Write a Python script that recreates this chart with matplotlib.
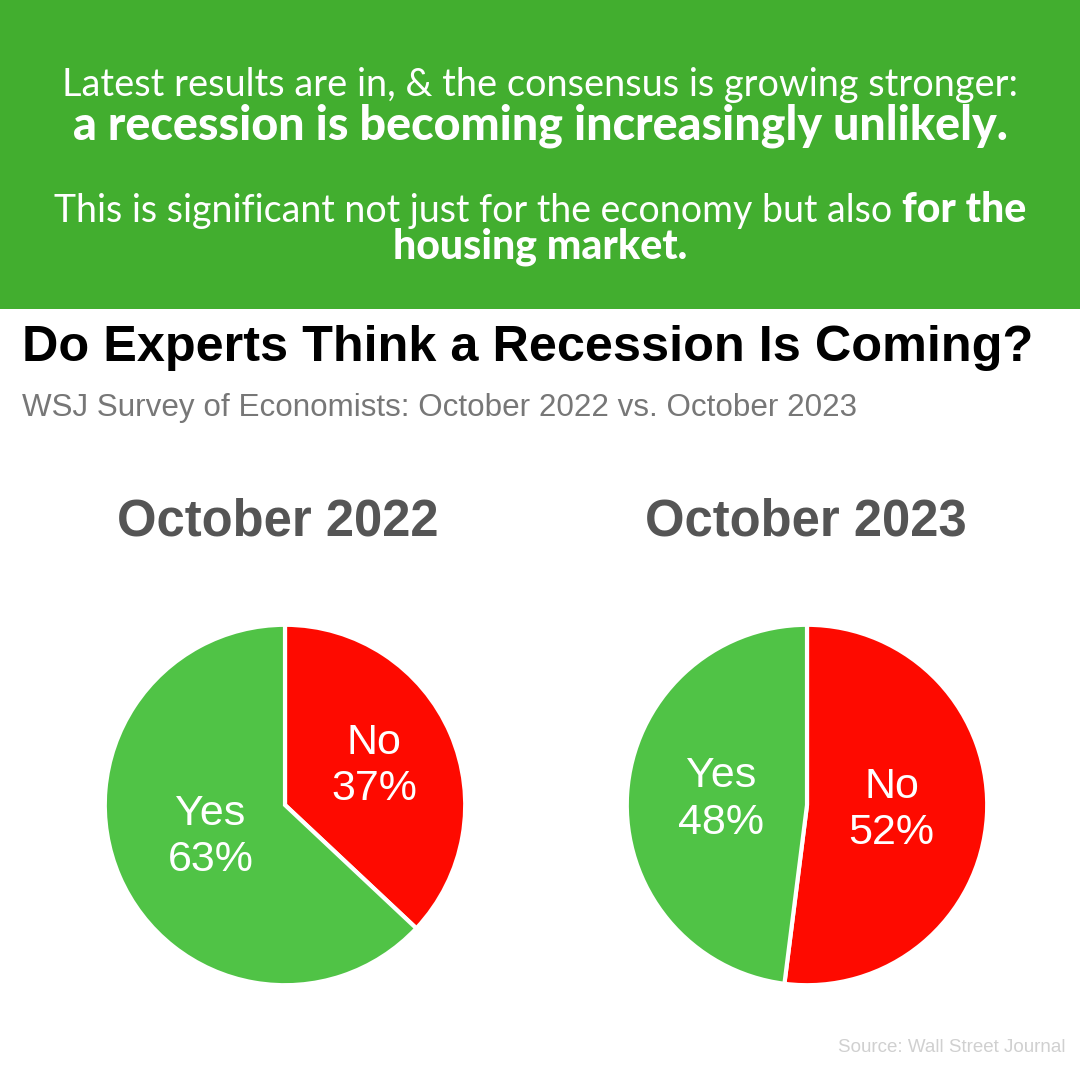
import numpy as np
import matplotlib
matplotlib.use("Agg")
import matplotlib.pyplot as plt
from matplotlib.patches import Rectangle

# data
pie_titles = ["October 2022", "October 2023"]
answers = ["No", "Yes"]
share_2022 = [37, 63]
share_2023 = [52, 48]
label_dist = [[0.54, 0.45], [0.47, 0.48]]

GREEN_BG = "#42ae2f"
PIE_GREEN = "#50c346"
PIE_RED = "#fe0a00"
HEAD_FONT = "Lato"

W = H = 1080
fig = plt.figure(figsize=(10.8, 10.8), dpi=100)
fig.patch.set_facecolor("white")


def fy(y):
    return 1 - y / H


fig.patches.append(Rectangle((0, fy(309)), 1, 309 / H, transform=fig.transFigure,
                             facecolor=GREEN_BG, edgecolor="none", zorder=0))

renderer = fig.canvas.get_renderer()


def mixed_line(parts, y):
    # parts: list of (text, weight, size); drawn centred on the figure
    texts = []
    for s, w, sz in parts:
        t = fig.text(0, fy(y), s, fontsize=sz, fontweight=w, family=HEAD_FONT,
                     color="white", va="baseline", ha="left")
        texts.append(t)
    widths = [t.get_window_extent(renderer).width for t in texts]
    x = (W - sum(widths)) / 2
    for t, wd in zip(texts, widths):
        t.set_x(x / W)
        x += wd


mixed_line([("Latest results are in, & the consensus is growing stronger:", "normal", 27.3)], 96)
mixed_line([("a recession is becoming increasingly unlikely.", "black", 33.5)], 140)
mixed_line([("This is significant not just for the economy but also ", "normal", 27),
            ("for the", "black", 29.5)], 222)
mixed_line([("housing market.", "black", 29.5)], 258)

fig.text(22 / W, fy(348), "Do Experts Think a Recession Is Coming?", fontsize=36.3,
         fontweight="bold", family="Liberation Sans", color="black", va="center", ha="left")
fig.text(22 / W, fy(408), "WSJ Survey of Economists: October 2022 vs. October 2023",
         fontsize=22.6, family="Liberation Sans", color="#777777", va="center", ha="left")
fig.text(1065 / W, fy(1048), "Source: Wall Street Journal", fontsize=13.5,
         family="Liberation Sans", color="#d0d0d0", va="center", ha="right")

centers = [(285, 805), (807, 805)]
R = 182
title_x = [278, 806]
for i, (vals, (cx, cy)) in enumerate(zip([share_2022, share_2023], centers)):
    ax = fig.add_axes([(cx - R) / W, 1 - (cy + R) / H, 2 * R / W, 2 * R / H])
    wedges, _ = ax.pie(vals, colors=[PIE_RED, PIE_GREEN], startangle=90,
                       counterclock=False, radius=1,
                       wedgeprops=dict(edgecolor="white", linewidth=3))
    for j, w in enumerate(wedges):
        mid = np.deg2rad((w.theta1 + w.theta2) / 2)
        d = label_dist[i][j]
        ax.text(d * np.cos(mid), d * np.sin(mid), f"{answers[j]}\n{vals[j]}%",
                ha="center", va="center", fontsize=31, color="white",
                family="Liberation Sans", linespacing=1.2)
    ax.set_xlim(-1.01, 1.01)
    ax.set_ylim(-1.01, 1.01)
    ax.axis("off")
    fig.text(title_x[i] / W, fy(522), pie_titles[i], fontsize=36.5, fontweight="bold",
             family="Liberation Sans", color="#555555", ha="center", va="center")

fig.savefig("out.png", dpi=100, facecolor="white")
